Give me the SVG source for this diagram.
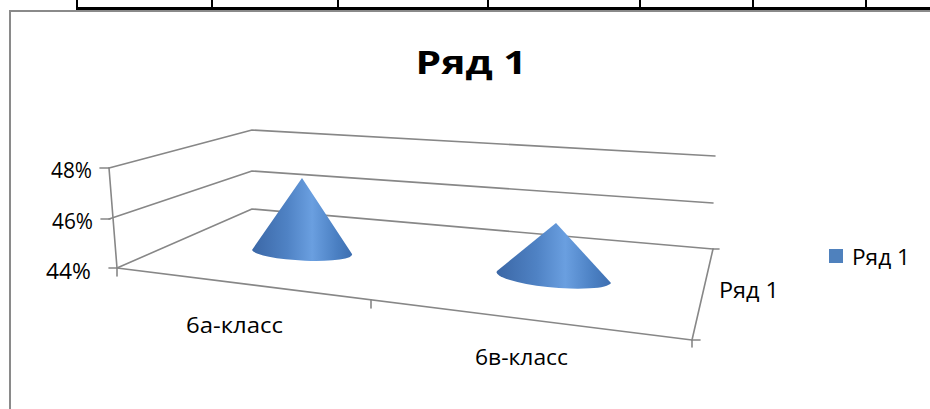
<svg xmlns="http://www.w3.org/2000/svg" width="930" height="409" viewBox="0 0 930 409">
<style>
.grid{stroke:#878787;stroke-width:1.6;fill:none;stroke-linecap:round;stroke-linejoin:round}
.frame{stroke:#8a8a8a;stroke-width:2;fill:none}
.tbl{stroke:#000;stroke-width:2;fill:none}
.lbl{font-family:"Open Sans","Liberation Sans",Arial,sans-serif;font-size:22px;fill:#000}
.ttl{font-family:"Open Sans","Liberation Sans",Arial,sans-serif;font-size:33px;font-weight:bold;fill:#000}
</style>
<defs>
<linearGradient id="coneGrad" x1="0" y1="0" x2="1" y2="0">
<stop offset="0" stop-color="#3b67a6"/>
<stop offset="0.35" stop-color="#4f82c4"/>
<stop offset="0.6" stop-color="#6a9fe0"/>
<stop offset="0.85" stop-color="#4a7fc2"/>
<stop offset="1" stop-color="#3d6eb0"/>
</linearGradient>
</defs>
<rect x="0" y="0" width="930" height="409" fill="#fff"/>

<g id="table-strip">
<line class="tbl" x1="77" y1="0" x2="77" y2="9"/>
<line class="tbl" x1="212" y1="0" x2="212" y2="9"/>
<line class="tbl" x1="338" y1="0" x2="338" y2="9"/>
<line class="tbl" x1="488" y1="0" x2="488" y2="9"/>
<line class="tbl" x1="640" y1="0" x2="640" y2="9"/>
<line class="tbl" x1="753" y1="0" x2="753" y2="9"/>
<line class="tbl" x1="866" y1="0" x2="866" y2="9"/>
<line x1="76" y1="8.5" x2="930" y2="8.5" stroke="#000" stroke-width="3"/>
</g>

<g id="chart-frame">
<polyline class="frame" points="10,409 10,11 930,11"/>
</g>

<g id="title">
<text class="ttl" x="471" y="74" text-anchor="middle" textLength="111" lengthAdjust="spacingAndGlyphs">Ряд 1</text>
</g>

<g id="walls">
<polyline class="grid" points="109,168 252,130 715,156"/>
<polyline class="grid" points="109,219 252,171 713,203"/>
<polyline class="grid" points="117,268 252,209 713,249"/>
<line class="grid" x1="109" y1="168" x2="117" y2="268"/>
<line class="grid" x1="100" y1="168" x2="109" y2="168"/>
<line class="grid" x1="101" y1="219" x2="110" y2="219"/>
<line class="grid" x1="109" y1="268" x2="117" y2="268"/>
<line class="grid" x1="117" y1="268" x2="692" y2="340"/>
<line class="grid" x1="117" y1="268" x2="117" y2="276"/>
<line class="grid" x1="371" y1="300" x2="371" y2="308"/>
<line class="grid" x1="692" y1="340" x2="692" y2="347"/>
<line class="grid" x1="692" y1="340" x2="700" y2="340"/>
<line class="grid" x1="713" y1="249" x2="692" y2="340"/>
<line class="grid" x1="713" y1="249" x2="719" y2="249"/>
</g>

<g id="cones">
<path id="cone-6a" d="M302,178 L252,250 A50,8.5 3 0 0 352,254 Z" fill="url(#coneGrad)"/>
<path id="cone-6v" d="M556,223 L497,271 A57,10.5 5 0 0 611,283 Z" fill="url(#coneGrad)"/>
</g>

<g id="axis-labels">
<text class="lbl" x="92" y="178" text-anchor="end" textLength="41" lengthAdjust="spacingAndGlyphs">48%</text>
<text class="lbl" x="93" y="229" text-anchor="end" textLength="41" lengthAdjust="spacingAndGlyphs">46%</text>
<text class="lbl" x="91" y="279" text-anchor="end" textLength="45" lengthAdjust="spacingAndGlyphs">44%</text>
<text class="lbl" x="186" y="333" textLength="97" lengthAdjust="spacingAndGlyphs">6а-класс</text>
<text class="lbl" x="475" y="365" textLength="93" lengthAdjust="spacingAndGlyphs">6в-класс</text>
<text class="lbl" x="719" y="298" textLength="60" lengthAdjust="spacingAndGlyphs">Ряд 1</text>
</g>

<g id="legend">
<rect x="829" y="249" width="14" height="14" fill="#4f81bd"/>
<text class="lbl" x="852" y="265" textLength="58" lengthAdjust="spacingAndGlyphs">Ряд 1</text>
</g>
</svg>
